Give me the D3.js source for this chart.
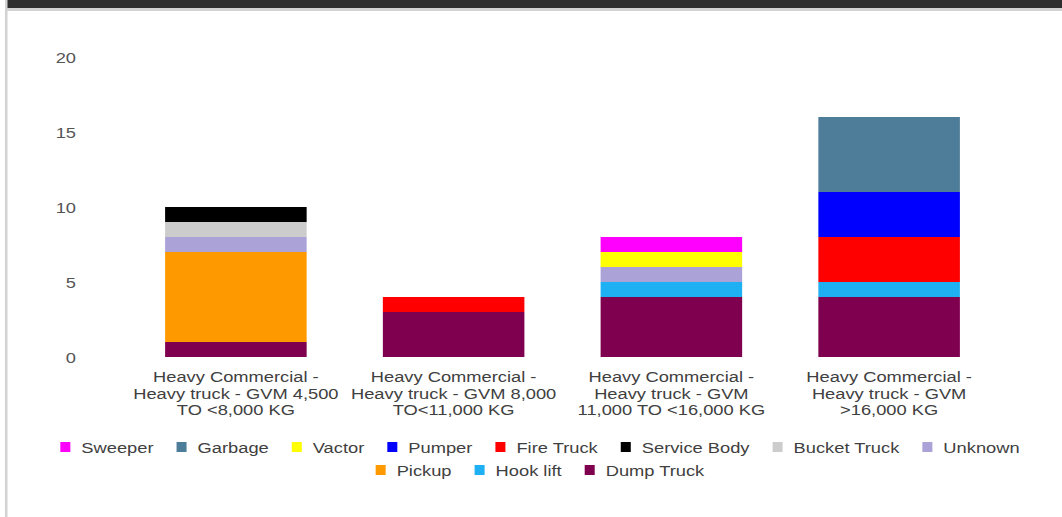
<!DOCTYPE html>
<html>
<head>
<meta charset="utf-8">
<script src="https://cdn.jsdelivr.net/npm/d3@7/dist/d3.min.js"></script>
<style>
  html, body { margin: 0; padding: 0; background: #ffffff; }
  svg { display: block; }
  text { font-family: "Liberation Sans", Arial, sans-serif; }
</style>
</head>
<body>
<svg id="chart" width="1062" height="517"></svg>
<script>
// Vehicle counts by weight class, one array per body type
const categories = [
  ["Heavy Commercial -", "Heavy truck - GVM 4,500", "TO <8,000 KG"],
  ["Heavy Commercial -", "Heavy truck - GVM 8,000", "TO<11,000 KG"],
  ["Heavy Commercial -", "Heavy truck - GVM", "11,000 TO <16,000 KG"],
  ["Heavy Commercial -", "Heavy truck - GVM", ">16,000 KG"]
];

// Stack order, bottom to top
const seriesNames = ["Dump Truck", "Hook lift", "Pickup", "Unknown", "Bucket Truck",
  "Service Body", "Fire Truck", "Pumper", "Vactor", "Garbage", "Sweeper"];
const seriesColors = ["#800050", "#1eb0f2", "#ff9900", "#aba3d8", "#cccccc",
  "#000000", "#ff0000", "#0000ff", "#ffff00", "#4d7d98", "#ff00ff"];

const dumpTruck   = [1, 3, 4, 4];
const hookLift    = [0, 0, 1, 1];
const pickup      = [6, 0, 0, 0];
const unknown     = [1, 0, 1, 0];
const bucketTruck = [1, 0, 0, 0];
const serviceBody = [1, 0, 0, 0];
const fireTruck   = [0, 1, 0, 3];
const pumper      = [0, 0, 0, 3];
const vactor      = [0, 0, 1, 0];
const garbage     = [0, 0, 0, 5];
const sweeper     = [0, 0, 1, 0];

const yTicks = [0, 5, 10, 15, 20];

const seriesValues = [dumpTruck, hookLift, pickup, unknown, bucketTruck,
  serviceBody, fireTruck, pumper, vactor, garbage, sweeper];

// Legend lists series top-of-stack first
const legendOrder = seriesNames.slice().reverse();

const svg = d3.select("#chart");
const W = 1062, H = 517;
const SX = 1.22; // horizontal text stretch

// page frame
svg.append("rect").attr("x", 0).attr("y", 0).attr("width", W).attr("height", H).attr("fill", "#ffffff");
svg.append("rect").attr("x", 7).attr("y", 0).attr("width", W - 7).attr("height", 8).attr("fill", "#2e2e2e");
svg.append("rect").attr("x", 7).attr("y", 8).attr("width", W - 7).attr("height", 3).attr("fill", "#d2d2d2");
svg.append("rect").attr("x", 5).attr("y", 0).attr("width", 2.5).attr("height", H).attr("fill", "#d2d2d2");

// rows of data keyed by series
const rows = categories.map((c, i) => {
  const r = { idx: i };
  seriesNames.forEach((s, k) => { r[s] = seriesValues[k][i]; });
  return r;
});

const x = d3.scaleBand()
  .domain(d3.range(categories.length))
  .range([127, 998])
  .paddingInner(0.35)
  .paddingOuter(0.175);

const y = d3.scaleLinear().domain([0, 20]).range([357, 57]);

const color = d3.scaleOrdinal().domain(seriesNames).range(seriesColors);

const stack = d3.stack().keys(seriesNames)(rows);

// stacked bars
const layers = svg.append("g").selectAll("g")
  .data(stack)
  .join("g")
  .attr("fill", d => color(d.key));

layers.selectAll("rect")
  .data(d => d.filter(p => p[1] - p[0] > 0))
  .join("rect")
  .attr("x", p => x(p.data.idx))
  .attr("width", x.bandwidth())
  .attr("y", p => y(p[1]))
  .attr("height", p => y(p[0]) - y(p[1]));

// y axis labels (no line, no ticks)
const yAxis = svg.append("g")
  .attr("transform", "translate(76,0)")
  .call(d3.axisLeft(y).tickValues(yTicks).tickSize(0).tickPadding(0));
yAxis.select(".domain").remove();
yAxis.selectAll("text")
  .attr("font-size", 15)
  .attr("fill", "#555555")
  .attr("font-family", "Liberation Sans, Arial, sans-serif")
  .attr("dy", "0.35em")
  .attr("x", null)
  .attr("transform", d => `scale(${SX},1)`);

// category labels under each bar
const catG = svg.append("g");
categories.forEach((lines, i) => {
  const cx = x(i) + x.bandwidth() / 2;
  lines.forEach((line, j) => {
    catG.append("text")
      .attr("transform", `translate(${cx},${382 + j * 16.5}) scale(${SX},1)`)
      .attr("text-anchor", "middle")
      .attr("font-size", 15)
      .attr("fill", "#404040")
      .text(line);
  });
});

// legend, wrapped into centred rows
const legendG = svg.append("g");
const sw = 10, swGap = 11, itemGap = 23, maxRow = 990;
const items = legendOrder.map(name => {
  const t = legendG.append("text")
    .attr("font-size", 15)
    .attr("fill", "#404040")
    .text(name);
  const tw = t.node().getComputedTextLength() * SX;
  return { name, t, w: sw + swGap + tw };
});
const legendRows = [];
let cur = [], curW = 0;
items.forEach(it => {
  const add = (cur.length ? itemGap : 0) + it.w;
  if (cur.length && curW + add > maxRow) {
    legendRows.push({ items: cur, w: curW });
    cur = []; curW = 0;
  }
  curW += (cur.length ? itemGap : 0) + it.w;
  cur.push(it);
});
if (cur.length) legendRows.push({ items: cur, w: curW });

const legendCx = 540;
legendRows.forEach((row, r) => {
  const cy = 447 + r * 23;
  let lx = legendCx - row.w / 2;
  row.items.forEach(it => {
    legendG.append("rect")
      .attr("x", lx).attr("y", cy - sw / 2)
      .attr("width", sw).attr("height", sw)
      .attr("fill", color(it.name));
    it.t.attr("transform", `translate(${lx + sw + swGap},${cy + 5.5}) scale(${SX},1)`);
    lx += it.w + itemGap;
  });
});
</script>
</body>
</html>
